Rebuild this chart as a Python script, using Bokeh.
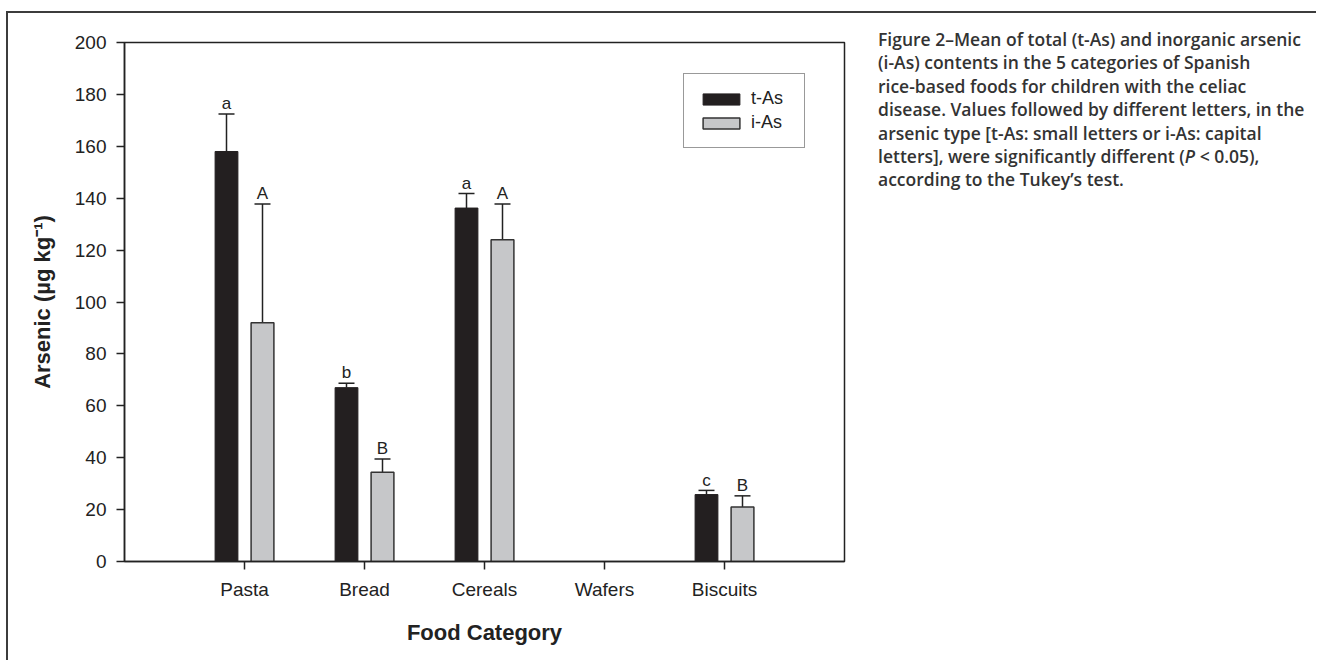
from bokeh.plotting import figure
from bokeh.models import (ColumnDataSource, FixedTicker, Whisker, TeeHead, Legend,
                          LegendItem, Div, Range1d)
from bokeh.layouts import row, column
from bokeh.core.properties import value
from bokeh.embed import file_html
from bokeh.resources import INLINE

# ---- data ----
categories = ["Pasta", "Bread", "Cereals", "Wafers", "Biscuits"]
t_as = [158.0, 67.0, 136.2, None, 25.8]
t_as_upper = [172.4, 68.7, 141.8, None, 27.4]
i_as = [92.0, 34.4, 124.0, None, 21.0]
i_as_upper = [137.8, 39.5, 137.8, None, 25.3]
t_letters = ["a", "b", "a", "", "c"]
i_letters = ["A", "B", "A", "", "B"]
series_names = ["t-As", "i-As"]

FONT = "Liberation Sans"
DARK = "#231f20"
GRAY = "#c6c7c9"
INK = "#222222"
OFF = 0.15
BAR_W = 0.19
LETTER_PAD = 4.0  # gap between cap and letter, in data units


def build(vals, uppers, letters, offset):
    xs, tops, ups, ly, labs = [], [], [], [], []
    for i, (v, u, l) in enumerate(zip(vals, uppers, letters)):
        if v is None:
            continue
        xs.append(i + 1 + offset)
        tops.append(v)
        ups.append(u)
        ly.append(u + LETTER_PAD)
        labs.append(l)
    return ColumnDataSource(dict(x=xs, top=tops, upper=ups, ly=ly, lab=labs))


src_t = build(t_as, t_as_upper, t_letters, -OFF)
src_i = build(i_as, i_as_upper, i_letters, OFF)

p = figure(width=870, height=635, x_range=Range1d(0, 6), y_range=Range1d(0, 200),
           output_backend="svg", toolbar_location=None,
           min_border_left=116, min_border_right=34, min_border_top=29,
           min_border_bottom=87, margin=0)
p.background_fill_color = "white"
p.border_fill_color = "white"
p.grid.visible = False
p.outline_line_color = INK
p.outline_line_width = 1.5

# axes
p.xaxis.ticker = FixedTicker(ticks=[1, 2, 3, 4, 5])
p.xaxis.major_label_overrides = {i + 1: c for i, c in enumerate(categories)}
p.yaxis.ticker = FixedTicker(ticks=list(range(0, 201, 20)))
for ax in (p.xaxis, p.yaxis):
    ax.axis_line_color = INK
    ax.axis_line_width = 1.5
    ax.major_tick_line_color = INK
    ax.major_tick_line_width = 1.5
    ax.major_tick_out = 8
    ax.major_tick_in = 0
    ax.minor_tick_out = 0
    ax.minor_tick_in = 0
    ax.major_label_text_font = FONT
    ax.major_label_text_font_size = "19px"
    ax.major_label_text_color = INK
    ax.axis_label_text_font = FONT
    ax.axis_label_text_font_size = "22px"
    ax.axis_label_text_font_style = "bold"
    ax.axis_label_text_color = INK
p.yaxis.major_label_standoff = 10
p.xaxis.major_label_standoff = 9
p.yaxis.axis_label = "Arsenic (µg kg⁻¹)"
p.xaxis.axis_label = "Food Category"
p.yaxis.axis_label_standoff = 17
p.xaxis.axis_label_standoff = 17

# error bars (upper only)
for src in (src_t, src_i):
    w = Whisker(source=src, base="x", lower="top", upper="upper", dimension="height",
                line_color=INK, line_width=1.5,
                upper_head=TeeHead(size=16, line_color=INK, line_width=1.5),
                lower_head=None)
    p.add_layout(w)

r_t = p.vbar(x="x", top="top", width=BAR_W, bottom=0, source=src_t,
             fill_color=DARK, line_color=DARK, line_width=1)
r_i = p.vbar(x="x", top="top", width=BAR_W, bottom=0, source=src_i,
             fill_color=GRAY, line_color="#333333", line_width=1.5)

for src in (src_t, src_i):
    p.text(x="x", y="ly", text="lab", source=src, text_align="center",
           text_baseline="alphabetic", text_font=value(FONT),
           text_font_size="17px", text_color=INK)

legend = Legend(items=[LegendItem(label=series_names[0], renderers=[r_t]),
                       LegendItem(label=series_names[1], renderers=[r_i])],
                location=(559, 413), orientation="vertical",
                border_line_color="#333333", border_line_width=1,
                background_fill_color="white", background_fill_alpha=1,
                padding=14, spacing=3, margin=0,
                glyph_width=46, glyph_height=14, label_height=20, label_width=39,
                label_standoff=7, label_text_font=FONT, label_text_font_size="18px",
                label_text_color=INK)
p.add_layout(legend)

caption_lines = [
    "Figure 2–Mean of total (t-As) and inorganic arsenic",
    "(i-As) contents in the 5 categories of Spanish",
    "rice-based foods for children with the celiac",
    "disease. Values followed by different letters, in the",
    "arsenic type [t-As: small letters or i-As: capital",
    "letters], were significantly different (<i>P</i> &lt; 0.05),",
    "according to the Tukey’s test.",
]
caption_html = ("<div style=\"font-family:'Open Sans'; font-weight:600; font-size:17.5px; "
                "line-height:23.4px; color:#333333; white-space:nowrap; padding-top:15px;\">"
                + "<br>".join(caption_lines) + "</div>")
caption = Div(text=caption_html, width=436, height=635, margin=0)

spacer = Div(text="", width=1316, height=11, margin=0)
top_line = Div(text="", width=1310, height=2, margin=0,
               styles={"background-color": "#3c3c3c"})
left_gap = Div(text="", width=6, height=10, margin=0)
left_line = Div(text="", width=2, height=647, margin=0,
                styles={"background-color": "#3c3c3c"})

layout = column(spacer,
                row(left_gap, column(top_line, row(left_line, p, caption, margin=0), margin=0),
                    margin=0),
                margin=0)

open("out.html", "w").write(file_html(layout, INLINE))
